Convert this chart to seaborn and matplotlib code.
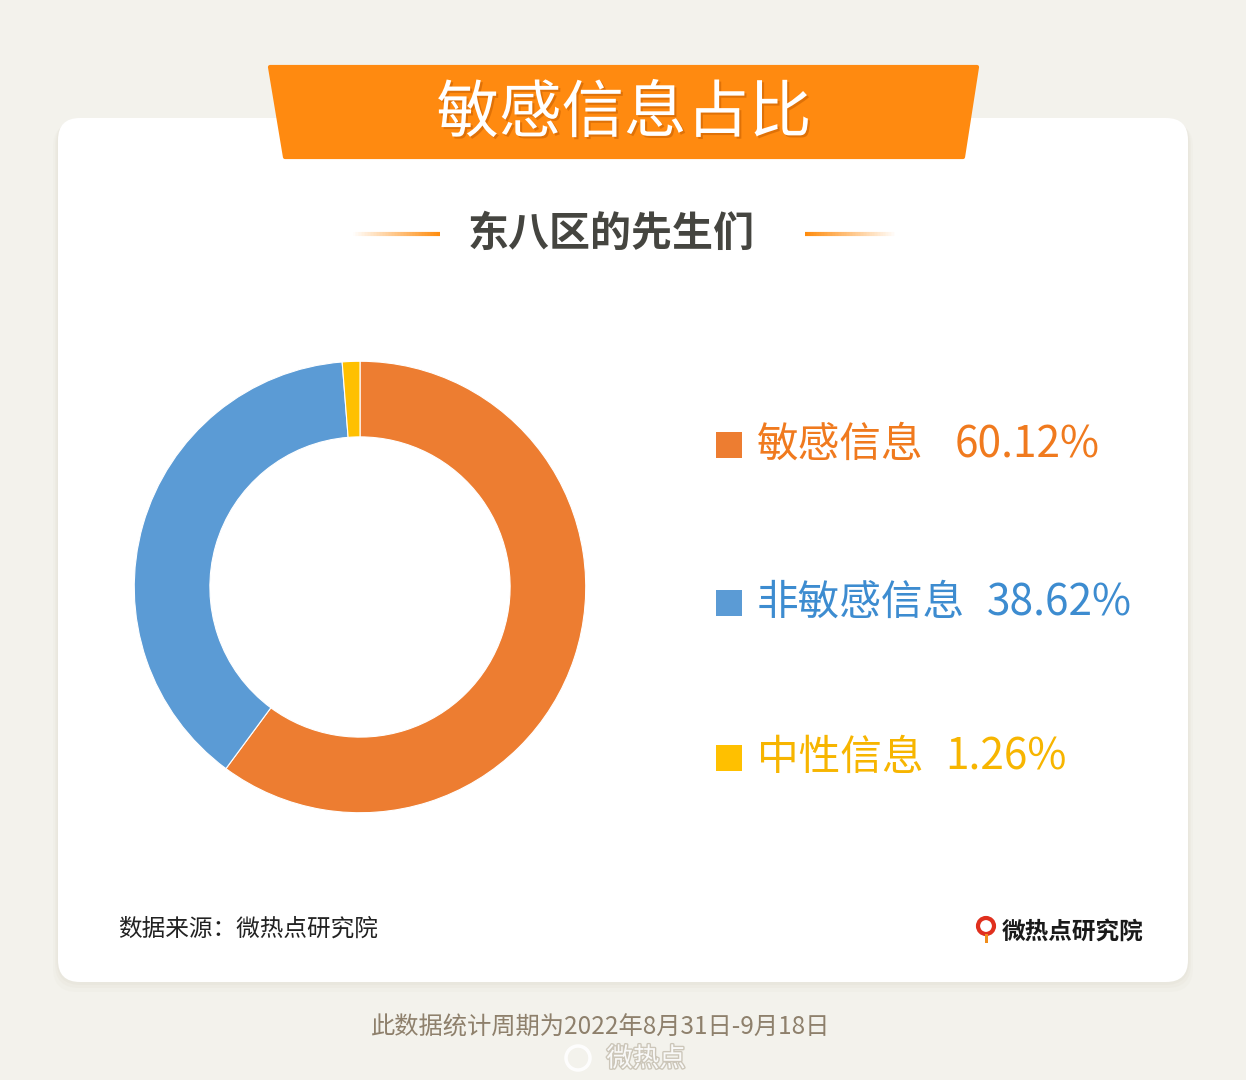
import matplotlib.pyplot as plt
import matplotlib.patheffects as pe
import seaborn as sns
import numpy as np
from matplotlib.patches import FancyBboxPatch, Polygon, Circle, Rectangle
from matplotlib.collections import LineCollection

sns.set_theme(style="white")
plt.rcParams['font.family'] = ['Noto Sans CJK SC', 'DejaVu Sans']

# ---------------- data ----------------
title = "敏感信息占比"
subtitle = "东八区的先生们"
categories = ["敏感信息", "非敏感信息", "中性信息"]
shares = [60.12, 38.62, 1.26]
wedge_colors = ["#ed7d31", "#5b9bd5", "#ffc000"]
text_colors = ["#f07a1e", "#3d8cd0", "#f7b500"]
source_note = "数据来源：微热点研究院"
logo_text = "微热点研究院"
period_note = "此数据统计周期为2022年8月31日-9月18日"
watermark = "微热点"

W, H = 1246, 1080
BG = "#f3f2ec"
ORANGE = "#ff8a10"

fig = plt.figure(figsize=(W / 100, H / 100), dpi=100, facecolor=BG)

# background canvas in pixel coordinates
bg = fig.add_axes([0, 0, 1, 1])
bg.set_xlim(0, W)
bg.set_ylim(H, 0)
bg.axis("off")

# card shadow + card
for off, a in [(10, 0.04), (6, 0.05), (3, 0.06)]:
    bg.add_patch(FancyBboxPatch((58 - off / 2, 118 + off / 2), 1130 + off, 864 + off / 2,
                                boxstyle="round,pad=0,rounding_size=24",
                                fc="#b8ad95", ec="none", alpha=a, zorder=1))
bg.add_patch(FancyBboxPatch((58, 118), 1130, 864, boxstyle="round,pad=0,rounding_size=22",
                            fc="white", ec="none", zorder=2))

# orange banner
bg.add_patch(Polygon([(270, 67), (977, 67), (963, 157), (285, 157)], closed=True,
                     fc=ORANGE, ec=ORANGE, lw=3, joinstyle="round", zorder=3))
bg.text(624, 114, title, fontsize=45, fontweight="medium", color="white",
        ha="center", va="center", zorder=4,
        path_effects=[pe.withSimplePatchShadow(offset=(1.5, -1.5), shadow_rgbFace="#c05a00", alpha=0.5)])

# subtitle with gradient rules
bg.text(611, 234, subtitle, fontsize=29.5, fontweight="bold", color="#454540",
        ha="center", va="center", zorder=4)


def gradient_rule(x0, x1, y, fade_left):
    xs = np.linspace(x0, x1, 60)
    segs = [[(xs[i], y), (xs[i + 1], y)] for i in range(len(xs) - 1)]
    t = np.linspace(0, 1, len(segs))
    alphas = t if fade_left else t[::-1]
    cols = [(1.0, 0.55, 0.05, a) for a in alphas]
    bg.add_collection(LineCollection(segs, colors=cols, linewidths=3, zorder=4))


gradient_rule(352, 440, 234, True)
gradient_rule(805, 897, 234, False)

# donut chart
cx, cy, r = 360, 587, 228
ax = fig.add_axes([(cx - r) / W, (H - cy - r) / H, 2 * r / W, 2 * r / H])
ax.pie(shares, colors=wedge_colors, startangle=90, counterclock=False,
       wedgeprops=dict(width=0.335, edgecolor="white", linewidth=0.8))
ax.set_xlim(-1.01, 1.01)
ax.set_ylim(-1.01, 1.01)
ax.set_aspect("equal")
ax.axis("off")

# legend
legend_y = [445, 603, 758]
pct_x = [955, 987, 945]
for cat, val, wc, tc, y, px in zip(categories, shares, wedge_colors, text_colors, legend_y, pct_x):
    bg.add_patch(Rectangle((716, y - 13), 26, 26, fc=wc, ec="none", zorder=4))
    bg.text(757, y, cat, fontsize=30, fontweight="medium", color=tc, ha="left", va="center", zorder=4)
    bg.text(px, y, f"{val:.2f}%", fontsize=30.5, fontweight="medium", color=tc,
            ha="left", va="center", zorder=4)

# footer inside card
bg.text(118, 929, source_note, fontsize=17, color="#222222", ha="left", va="center", zorder=4)
bg.add_patch(Circle((986, 926), 8, fc="none", ec="#e0301e", lw=3, zorder=4))
bg.add_patch(Rectangle((984.5, 934), 3, 9, fc="#f08c1a", ec="none", zorder=4))
bg.text(1002, 932, logo_text, fontsize=17, fontweight="heavy", color="#1a1a1a",
        ha="left", va="center", zorder=4)

# below card
bg.text(601, 1028, period_note, fontsize=17.5, color="#8e806c", ha="center", va="center", zorder=4)
bg.add_patch(Circle((578, 1058), 12, fc="none", ec="white", lw=2.5, alpha=0.9, zorder=5))
bg.text(646, 1059, watermark, fontsize=19, color="white", alpha=0.9, ha="center", va="center",
        zorder=5, path_effects=[pe.withStroke(linewidth=2, foreground="#c8c2b4")])

fig.savefig("out.png", dpi=100, facecolor=BG)
